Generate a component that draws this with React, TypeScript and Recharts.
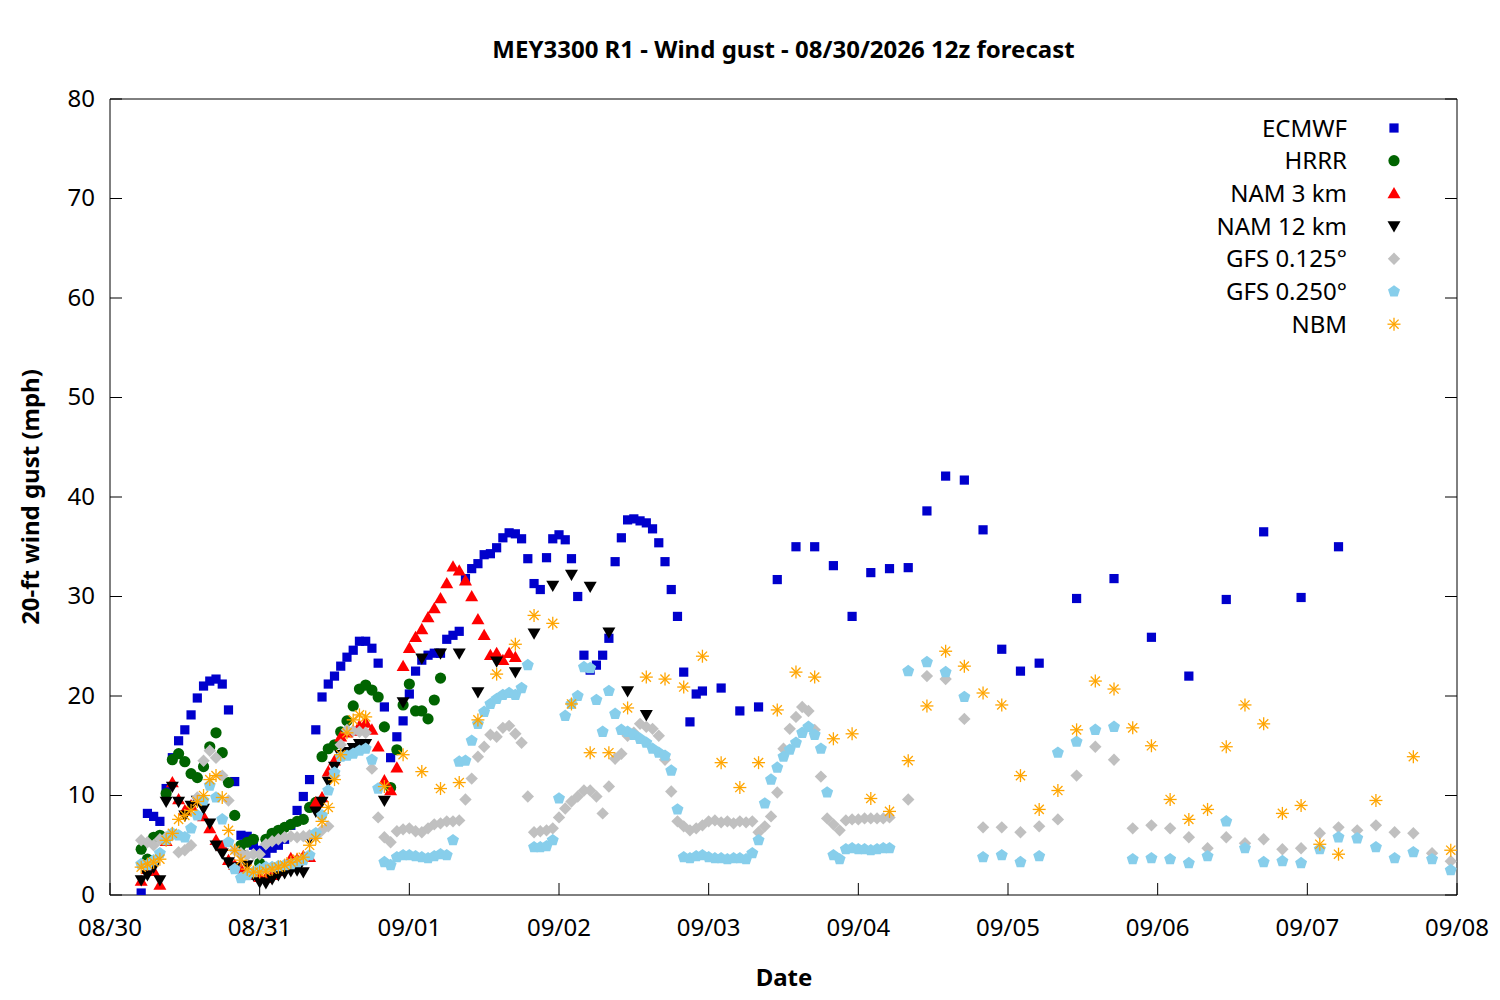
import React from 'react';
import { ScatterChart, Scatter, XAxis, YAxis } from 'recharts';

// ---- axis labels / ticks ----
const dayLabels = ['08/30', '08/31', '09/01', '09/02', '09/03', '09/04', '09/05', '09/06', '09/07', '09/08'];
const dayTicks = [0, 24, 48, 72, 96, 120, 144, 168, 192, 216]; // hours since 08/30 00 local
const yTicks = [0, 10, 20, 30, 40, 50, 60, 70, 80];

// ---- ECMWF ----
const ecmwfHourlyStart = 5;
const ecmwfHourly = [
  0.2, 8.2, 7.9, 7.4, 10.7, 13.8, 15.5, 16.6, 18.1, 19.8,
  21.0, 21.5, 21.7, 21.2, 18.6, 11.4, 6.0, 5.9, 5.0, 4.5,
  4.2, 4.7, 5.0, 5.6, 7.0, 8.5, 9.9, 11.6, 16.6, 19.9,
  21.2, 22.0, 23.0, 23.9, 24.6, 25.5, 25.5, 24.8, 23.3, 18.9,
  13.8, 15.9, 17.5, 20.2, 22.5, 23.6, 24.1, 24.3, 24.3, 25.7,
  26.1, 26.5, 31.8, 32.8, 33.3, 34.2, 34.3, 34.9, 35.9, 36.4,
  36.3, 35.8, 33.8, 31.3, 30.7, 33.9, 35.8, 36.2, 35.7, 33.8,
  30.0, 24.1, 22.6, 23.1, 24.1, 25.8, 33.5, 35.9, 37.7, 37.8,
  37.6, 37.4, 36.8, 35.4, 33.5, 30.7, 28.0, 22.4, 17.4, 20.2,
  20.5,
];
const ecmwf3hStart = 98;
const ecmwf3h = [20.8, 18.5, 18.9, 31.7, 35.0, 35.0, 33.1, 28.0, 32.4, 32.8, 32.9, 38.6, 42.1, 41.7, 36.7, 24.7, 22.5, 23.3];
const ecmwf6hStart = 155;
const ecmwf6h = [29.8, 31.8, 25.9, 22.0, 29.7, 36.5, 29.9, 35.0];

// ---- HRRR ----
const hrrrStart = 5;
const hrrrHourly = [
  4.6, 3.6, 5.8, 6.0, 10.2, 13.6, 14.2, 13.4, 12.2, 11.8,
  12.9, 14.9, 16.3, 14.3, 11.3, 8.0, 5.0, 5.3, 5.6, 3.2,
  5.6, 6.2, 6.5, 6.8, 7.1, 7.4, 7.6, 8.8, 9.3, 13.9,
  14.7, 15.1, 16.4, 17.5, 19.0, 20.7, 21.1, 20.6, 19.9, 16.9,
  10.8, 14.6, 19.1, 21.2, 18.5, 18.5, 17.7, 19.6, 21.8,
];

// ---- NAM 3 km ----
const nam3Start = 5;
const nam3Hourly = [
  1.4, 2.6, 2.4, 1.0, 5.4, 11.3, 9.6, 8.5, 9.0, 9.5,
  7.9, 6.7, 5.5, 4.9, 3.5, 3.0, 2.6, 2.3, 2.0, 1.8,
  1.7, 2.0, 2.4, 3.0, 3.7, 3.6, 3.9, 3.8, 9.3, 9.8,
  12.4, 13.5, 15.9, 16.3, 16.5, 17.0, 17.3, 16.6, 14.9, 11.5,
  10.5, 12.8, 23.0, 24.8, 25.9, 26.7, 27.9, 28.8, 29.8, 31.3,
  33.0, 32.6, 31.6, 30.0, 27.7, 26.1, 24.1, 24.3, 23.6, 24.3, 23.9,
];

// ---- NAM 12 km ----
const nam12Start = 5;
const nam12Hourly = [
  1.5, 2.0, 2.8, 1.5, 9.4, 10.9, 9.4, 8.0, 9.0, 9.5,
  8.7, 7.2, 5.0, 4.2, 3.3, 2.8, 4.0, 3.0, 2.0, 1.3,
  1.2, 1.6, 2.0, 2.2, 2.4, 2.5, 2.3, 5.7, 8.4, 9.4,
  11.4, 12.9, 14.1, 14.4, 14.8, 15.2, 15.2,
];
const nam12ThreeStart = 44;
const nam12Three = [9.5, 19.4, 23.8, 24.3, 24.3, 20.4, 23.5, 22.4, 26.3, 31.1, 32.2, 31.0, 26.4, 20.5, 18.1];

// ---- GFS 0.125 ----
const gfs125Start = 5;
const gfs125Hourly = [
  5.5, 5.3, 5.0, 5.6, 5.8, 6.0, 4.3, 4.5, 5.0, 9.8,
  13.5, 14.5, 13.8, 12.0, 9.5, 4.5, 4.2, 4.0, 4.1, 4.1,
  5.1, 5.4, 5.6, 5.8, 5.9, 5.8, 5.9, 6.0, 5.9, 6.5,
  6.9, 12.0, 15.1, 16.6, 16.5, 16.4, 16.3, 12.7, 7.8, 5.8,
  5.3, 6.4, 6.6, 6.7, 6.4, 6.3, 6.7, 7.1, 7.2, 7.4,
  7.4, 7.5, 9.6, 11.7, 13.9, 14.9, 16.1, 15.9, 16.8, 17.0,
  16.2, 15.3, 9.9, 6.3, 6.4, 6.5, 6.7, 7.8, 8.7, 9.4,
  9.9, 10.5, 10.5, 9.9, 8.2, 10.9, 13.7, 14.2, 16.0, 16.3,
  17.2, 16.9, 16.7, 16.0, 13.6, 10.4, 7.4, 6.9, 6.5, 6.7,
  7.0, 7.4, 7.5, 7.3, 7.4, 7.2, 7.4, 7.3, 7.4, 6.3,
  6.9, 7.9, 10.3, 14.7, 16.7, 17.9, 18.9, 18.5, 16.6, 11.9,
  7.7, 7.1, 6.5, 7.5, 7.6, 7.6, 7.7, 7.7, 7.7, 7.7,
  7.8,
];
const gfs125ThreeStart = 128;
const gfs125Three = [
  9.6, 22.0, 21.7, 17.7, 6.8, 6.8, 6.3, 6.9, 7.6, 12.0,
  14.9, 13.6, 6.7, 7.0, 6.7, 5.8, 4.7, 5.8, 5.2, 5.6,
  4.6, 4.7, 6.2, 6.8, 6.5, 7.0, 6.3, 6.2, 4.2, 3.4,
];

// ---- GFS 0.250 ----
const gfs250Start = 5;
const gfs250Hourly = [
  3.1, 3.0, 3.5, 4.2, 5.5, 6.2, 6.0, 5.8, 6.7, 8.0,
  9.5, 11.0, 9.8, 7.6, 5.3, 2.6, 1.7, 2.0, 2.3, 2.6,
  2.8, 2.8, 2.9, 3.0, 3.1, 3.3, 3.5, 4.0, 6.2, 8.0,
  10.5, 12.3, 13.9, 14.0, 14.2, 14.5, 14.7, 13.6, 10.7, 3.3,
  3.0, 3.8, 4.0, 4.0, 3.9, 3.8, 3.7, 3.9, 4.1, 4.0,
  5.5, 13.4, 13.5, 15.5, 17.2, 18.4, 19.2, 19.7, 20.1, 20.3,
  20.1, 20.8, 23.1, 4.8, 4.8, 4.9, 5.5, 9.7, 18.0, 19.2,
  20.0, 22.9, 22.8, 19.6, 16.4, 20.5, 18.2, 16.6, 16.4, 16.1,
  15.7, 15.3, 14.7, 14.3, 14.0, 12.5, 8.6, 3.8, 3.7, 3.9,
  4.0, 3.8, 3.7, 3.7, 3.6, 3.7, 3.7, 3.6, 4.2, 5.5,
  9.2, 11.6, 12.8, 13.9, 14.6, 15.3, 16.3, 16.9, 16.1, 14.7,
  10.3, 4.0, 3.6, 4.6, 4.7, 4.6, 4.6, 4.5, 4.6, 4.7,
  4.7,
];
const gfs250ThreeStart = 128;
const gfs250Three = [
  22.5, 23.4, 22.4, 19.9, 3.8, 4.0, 3.3, 3.9, 14.3, 15.4,
  16.6, 16.9, 3.6, 3.7, 3.6, 3.2, 3.9, 7.4, 4.7, 3.3,
  3.4, 3.2, 4.6, 5.8, 5.7, 4.8, 3.7, 4.3, 3.6, 2.5,
];

// ---- NBM ----
const nbmStart = 5;
const nbmHourly = [
  2.8, 3.1, 3.3, 3.6, 5.5, 6.2, 7.6, 8.0, 8.5, 9.4,
  10.0, 11.6, 12.0, 9.8, 6.5, 4.5, 3.5, 2.6, 2.3, 2.3,
  2.4, 2.6, 2.8, 3.0, 3.3, 3.6, 3.8, 5.0, 5.7, 7.4,
  8.8, 11.6, 14.1, 16.3, 17.6, 18.1, 17.9,
];
const nbmThreeStart = 44;
const nbmThree = [
  10.9, 14.1, 12.4, 10.7, 11.3, 17.6, 22.2, 25.2, 28.1, 27.3,
  19.2, 14.3, 14.3, 18.8, 21.9, 21.7, 20.9, 24.0, 13.3, 10.8,
  13.3, 18.6, 22.4, 21.9, 15.7, 16.2, 9.7, 8.4, 13.5, 19.0,
  24.5, 23.0, 20.3, 19.1, 12.0, 8.6, 10.5, 16.6, 21.5, 20.7,
  16.8, 15.0, 9.6, 7.6, 8.6, 14.9, 19.1, 17.2, 8.2, 9.0,
  5.1, 4.1,
];
const nbmSixStart = 203;
const nbmSix = [9.5, 13.9, 4.5];

// ---- helpers ----
type Pt = { h: number; v: number };
const seg = (start: number, step: number, vals: number[]): Pt[] =>
  vals.map((v, i) => ({ h: start + i * step, v }));

const ecmwfData = [...seg(ecmwfHourlyStart, 1, ecmwfHourly), ...seg(ecmwf3hStart, 3, ecmwf3h), ...seg(ecmwf6hStart, 6, ecmwf6h)];
const hrrrData = seg(hrrrStart, 1, hrrrHourly);
const nam3Data = seg(nam3Start, 1, nam3Hourly);
const nam12Data = [...seg(nam12Start, 1, nam12Hourly), ...seg(nam12ThreeStart, 3, nam12Three)];
const gfs125Data = [...seg(gfs125Start, 1, gfs125Hourly), ...seg(gfs125ThreeStart, 3, gfs125Three)];
const gfs250Data = [...seg(gfs250Start, 1, gfs250Hourly), ...seg(gfs250ThreeStart, 3, gfs250Three)];
const nbmData = [...seg(nbmStart, 1, nbmHourly), ...seg(nbmThreeStart, 3, nbmThree), ...seg(nbmSixStart, 6, nbmSix)];

// ---- marker shapes ----
const COLORS = {
  ecmwf: '#0000cc',
  hrrr: '#006400',
  nam3: '#ff0000',
  nam12: '#000000',
  gfs125: '#c0c0c0',
  gfs250: '#87ceeb',
  nbm: '#ffa500',
};

const Square = ({ cx, cy, fill }: any) => <rect x={cx - 4.6} y={cy - 4.6} width={9.2} height={9.2} fill={fill} />;
const Circle = ({ cx, cy, fill }: any) => <circle cx={cx} cy={cy} r={5.6} fill={fill} />;
const TriUp = ({ cx, cy, fill }: any) => (
  <polygon points={`${cx},${cy - 6.5} ${cx + 6.5},${cy + 4.8} ${cx - 6.5},${cy + 4.8}`} fill={fill} />
);
const TriDown = ({ cx, cy, fill }: any) => (
  <polygon points={`${cx},${cy + 6.5} ${cx + 6.5},${cy - 4.8} ${cx - 6.5},${cy - 4.8}`} fill={fill} />
);
const Diamond = ({ cx, cy, fill }: any) => (
  <polygon points={`${cx},${cy - 6.2} ${cx + 6.2},${cy} ${cx},${cy + 6.2} ${cx - 6.2},${cy}`} fill={fill} />
);
const Pentagon = ({ cx, cy, fill }: any) => {
  const r = 6.3;
  const pts = [0, 1, 2, 3, 4]
    .map((k) => {
      const a = -Math.PI / 2 + (k * 2 * Math.PI) / 5;
      return `${cx + r * Math.cos(a)},${cy + r * Math.sin(a)}`;
    })
    .join(' ');
  return <polygon points={pts} fill={fill} />;
};
const Asterisk = ({ cx, cy, fill }: any) => {
  const r = 6.5;
  const d = r * 0.7071;
  return (
    <g stroke={fill} strokeWidth={1.3}>
      <line x1={cx - r} y1={cy} x2={cx + r} y2={cy} />
      <line x1={cx} y1={cy - r} x2={cx} y2={cy + r} />
      <line x1={cx - d} y1={cy - d} x2={cx + d} y2={cy + d} />
      <line x1={cx - d} y1={cy + d} x2={cx + d} y2={cy - d} />
    </g>
  );
};

const series = [
  { name: 'ECMWF', data: ecmwfData, color: COLORS.ecmwf, Shape: Square },
  { name: 'HRRR', data: hrrrData, color: COLORS.hrrr, Shape: Circle },
  { name: 'NAM 3 km', data: nam3Data, color: COLORS.nam3, Shape: TriUp },
  { name: 'NAM 12 km', data: nam12Data, color: COLORS.nam12, Shape: TriDown },
  { name: 'GFS 0.125°', data: gfs125Data, color: COLORS.gfs125, Shape: Diamond },
  { name: 'GFS 0.250°', data: gfs250Data, color: COLORS.gfs250, Shape: Pentagon },
  { name: 'NBM', data: nbmData, color: COLORS.nbm, Shape: Asterisk },
];

// ---- ticks (gnuplot style: inward, mirrored) ----
const TICK_LEN = 12;
const FONT = '"Noto Sans", "Open Sans", sans-serif';

const dayLabel = (h: number) => dayLabels[dayTicks.indexOf(h)] ?? '';

const BottomTick = (p: any) => (
  <g>
    <line x1={p.x} y1={p.y} x2={p.x} y2={p.y - TICK_LEN} stroke="#000" strokeWidth={1} />
    <text x={p.x} y={p.y + 31} textAnchor="middle" dominantBaseline="central" fontSize={24} fill="#000" fontFamily={FONT}>
      {dayLabel(p.payload.value)}
    </text>
  </g>
);
const TopTick = (p: any) => (
  <line x1={p.x} y1={p.y} x2={p.x} y2={p.y + TICK_LEN} stroke="#000" strokeWidth={1} />
);
const LeftTick = (p: any) => (
  <g>
    <line x1={p.x} y1={p.y} x2={p.x + TICK_LEN} y2={p.y} stroke="#000" strokeWidth={1} />
    <text x={p.x - 15} y={p.y - 2} textAnchor="end" dominantBaseline="central" fontSize={24} fill="#000" fontFamily={FONT}>
      {p.payload.value}
    </text>
  </g>
);
const RightTick = (p: any) => (
  <line x1={p.x} y1={p.y} x2={p.x - TICK_LEN} y2={p.y} stroke="#000" strokeWidth={1} />
);

const W = 1484;
const H = 984;

export default function App() {
  return (
    <div style={{ position: 'relative', width: W, height: H, fontFamily: FONT, color: '#000' }}>
      <ScatterChart width={W} height={H} margin={{ top: 90, right: 34, bottom: 57, left: 42 }}>
        <XAxis
          xAxisId="b"
          dataKey="h"
          type="number"
          domain={[0, 216]}
          ticks={dayTicks}
          interval={0}
          orientation="bottom"
          height={40}
          tickSize={0}
          tickMargin={0}
          tickLine={false}
          axisLine={{ stroke: '#000', strokeWidth: 1 }}
          tick={(p: any) => <BottomTick {...p} />}
          allowDataOverflow
        />
        <XAxis
          xAxisId="t"
          type="number"
          domain={[0, 216]}
          ticks={dayTicks}
          interval={0}
          orientation="top"
          height={1}
          tickSize={0}
          tickMargin={0}
          tickLine={false}
          axisLine={{ stroke: '#000', strokeWidth: 1 }}
          tick={(p: any) => <TopTick {...p} />}
          allowDataOverflow
        />
        <YAxis
          yAxisId="l"
          dataKey="v"
          type="number"
          domain={[0, 80]}
          ticks={yTicks}
          interval={0}
          width={60}
          tickSize={0}
          tickMargin={0}
          tickLine={false}
          axisLine={{ stroke: '#000', strokeWidth: 1 }}
          tick={(p: any) => <LeftTick {...p} />}
          allowDataOverflow
        />
        <YAxis
          yAxisId="r"
          orientation="right"
          type="number"
          domain={[0, 80]}
          ticks={yTicks}
          interval={0}
          width={1}
          tickSize={0}
          tickMargin={0}
          tickLine={false}
          axisLine={{ stroke: '#000', strokeWidth: 1 }}
          tick={(p: any) => <RightTick {...p} />}
          allowDataOverflow
        />
        {series.map((s) => (
          <Scatter
            key={s.name}
            name={s.name}
            data={s.data}
            xAxisId="b"
            yAxisId="l"
            fill={s.color}
            isAnimationActive={false}
            shape={(p: any) => <s.Shape cx={p.cx} cy={p.cy} fill={s.color} />}
          />
        ))}
      </ScatterChart>

      {/* title */}
      <div
        style={{
          position: 'absolute',
          left: 102,
          width: 1347,
          top: 26,
          textAlign: 'center',
          fontSize: 24,
          fontWeight: 'bold',
          lineHeight: '30px',
          whiteSpace: 'nowrap',
        }}
      >
        MEY3300 R1 - Wind gust - 08/30/2026 12z forecast
      </div>

      {/* x label */}
      <div
        style={{
          position: 'absolute',
          left: 776,
          top: 968,
          transform: 'translate(-50%, -50%)',
          fontSize: 24,
          fontWeight: 'bold',
          whiteSpace: 'nowrap',
        }}
      >
        Date
      </div>

      {/* y label */}
      <div
        style={{
          position: 'absolute',
          left: 21,
          top: 489,
          transform: 'translate(-50%, -50%) rotate(-90deg)',
          fontSize: 24,
          fontWeight: 'bold',
          whiteSpace: 'nowrap',
        }}
      >
        20-ft wind gust (mph)
      </div>

      {/* legend */}
      <svg style={{ position: 'absolute', left: 0, top: 0, pointerEvents: 'none' }} width={W} height={H}>
        {series.map((s, i) => {
          const cy = 119 + i * 32.7;
          return (
            <g key={s.name}>
              <text x={1339} y={cy} textAnchor="end" dominantBaseline="central" fontSize={24} fill="#000" fontFamily={FONT}>
                {s.name}
              </text>
              <s.Shape cx={1386} cy={cy + 1} fill={s.color} />
            </g>
          );
        })}
      </svg>
    </div>
  );
}
